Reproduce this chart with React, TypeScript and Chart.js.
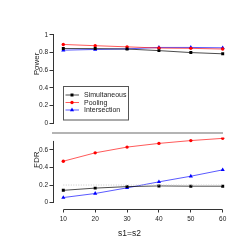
import React, { useEffect, useRef } from "react";
import { Chart, registerables } from "chart.js";

Chart.register(...registerables);

const sValues = [10, 20, 30, 40, 50, 60];
const powerSimultaneous = [0.846, 0.845, 0.84, 0.822, 0.8, 0.786];
const powerPooling = [0.892, 0.878, 0.865, 0.851, 0.848, 0.84];
const powerIntersection = [0.827, 0.835, 0.842, 0.858, 0.858, 0.854];
const fdrSimultaneous = [0.14, 0.165, 0.182, 0.19, 0.187, 0.187];
const fdrPooling = [0.47, 0.565, 0.63, 0.672, 0.704, 0.729];
const fdrIntersection = [0.058, 0.104, 0.168, 0.236, 0.3, 0.372];
const fdrLevel = 0.2;
const powerTicks = [0, 0.2, 0.4, 0.6, 0.8, 1];
const fdrTicks = [0, 0.2, 0.4, 0.6];
const xTicks = [10, 20, 30, 40, 50, 60];
const seriesNames = ["Simultaneous", "Pooling", "Intersection"];

const FONT = "'Liberation Sans', Arial, Helvetica, sans-serif";
const AXIS = "#333";
const TEXT = "#222";

const styles = [
  { line: "rgba(0,0,0,0.7)", point: "#000", shape: "rect", r: 2.1 },
  { line: "rgba(255,0,0,0.65)", point: "#ff0000", shape: "circle", r: 1.7 },
  { line: "rgba(0,0,255,0.65)", point: "#0000ff", shape: "triangle", r: 2.4 },
];

function pts(vals: number[]) {
  return sValues.map((x, i) => ({ x, y: vals[i] }));
}

function ds(label: string, vals: number[], k: number) {
  const s = styles[k];
  return {
    label,
    data: pts(vals),
    borderColor: s.line,
    backgroundColor: s.point,
    pointBackgroundColor: s.point,
    pointBorderColor: s.point,
    pointBorderWidth: 0,
    pointStyle: s.shape,
    pointRadius: s.r,
    borderWidth: 1,
    tension: 0,
  };
}

function drawMarker(ctx: CanvasRenderingContext2D, shape: string, x: number, y: number, r: number, color: string) {
  ctx.fillStyle = color;
  ctx.beginPath();
  if (shape === "rect") {
    const h = r / Math.SQRT2;
    ctx.rect(x - h, y - h, 2 * h, 2 * h);
  } else if (shape === "circle") {
    ctx.arc(x, y, r, 0, Math.PI * 2);
  } else {
    const a = (Math.PI / 180) * 0;
    ctx.moveTo(x + Math.sin(a) * r, y - Math.cos(a) * r);
    ctx.lineTo(x + Math.sin(a + (2 * Math.PI) / 3) * r, y - Math.cos(a + (2 * Math.PI) / 3) * r);
    ctx.lineTo(x + Math.sin(a + (4 * Math.PI) / 3) * r, y - Math.cos(a + (4 * Math.PI) / 3) * r);
    ctx.closePath();
  }
  ctx.fill();
}

function axisLinePlugin(ticks: number[], yTitle: string, titleY: number, extraTop?: number) {
  return {
    id: "axisLine_" + yTitle,
    afterDraw(chart: any) {
      const ctx = chart.ctx as CanvasRenderingContext2D;
      const y = chart.scales.y;
      const left = chart.chartArea.left;
      const topVal = extraTop !== undefined ? extraTop : ticks[ticks.length - 1];
      ctx.save();
      ctx.strokeStyle = AXIS;
      ctx.lineWidth = 1;
      ctx.beginPath();
      ctx.moveTo(left, y.getPixelForValue(ticks[0]));
      ctx.lineTo(left, y.getPixelForValue(topVal));
      ctx.stroke();
      ctx.fillStyle = TEXT;
      ctx.font = `8px ${FONT}`;
      ctx.textAlign = "center";
      ctx.textBaseline = "middle";
      ctx.translate(36.7, titleY);
      ctx.rotate(-Math.PI / 2);
      ctx.fillText(yTitle, 0, 0);
      ctx.restore();
    },
  };
}

const legendPlugin = {
  id: "customLegend",
  afterDraw(chart: any) {
    const ctx = chart.ctx as CanvasRenderingContext2D;
    ctx.save();
    ctx.strokeStyle = "#555";
    ctx.lineWidth = 1;
    ctx.strokeRect(63.5, 86.5, 65, 33.5);
    const rows = [95, 102.5, 110];
    chart.data.datasets.forEach((d: any, i: number) => {
      const s = styles[i];
      const yy = rows[i];
      ctx.strokeStyle = s.line;
      ctx.lineWidth = 1;
      ctx.beginPath();
      ctx.moveTo(65.5, yy);
      ctx.lineTo(79, yy);
      ctx.stroke();
      drawMarker(ctx, s.shape, 72, yy, s.r, s.point);
      ctx.fillStyle = TEXT;
      ctx.font = `7px ${FONT}`;
      ctx.textAlign = "left";
      ctx.textBaseline = "middle";
      ctx.fillText(d.label, 84, yy + 0.3);
    });
    ctx.restore();
  },
};

const separatorPlugin = {
  id: "separator",
  beforeDatasetsDraw(chart: any) {
    const ctx = chart.ctx as CanvasRenderingContext2D;
    ctx.save();
    ctx.fillStyle = "#b4b4b4";
    ctx.fillRect(52, 0, 171, 2);
    ctx.restore();
  },
};

function bottomExtras() {
  return {
    id: "bottomExtras",
    afterDraw(chart: any) {
      const ctx = chart.ctx as CanvasRenderingContext2D;
      const x = chart.scales.x;
      const bottom = chart.chartArea.bottom;
      ctx.save();
      ctx.strokeStyle = AXIS;
      ctx.lineWidth = 1;
      ctx.beginPath();
      ctx.moveTo(x.getPixelForValue(xTicks[0]), bottom);
      ctx.lineTo(x.getPixelForValue(xTicks[xTicks.length - 1]), bottom);
      ctx.stroke();
      ctx.fillStyle = TEXT;
      ctx.font = `8.5px ${FONT}`;
      ctx.textAlign = "center";
      ctx.textBaseline = "middle";
      ctx.fillText("s1=s2", 129.5, 101.3);
      ctx.restore();
    },
  };
}

const xMin = 6.926;
const xMax = 61.976;

function yScale(min: number, max: number, ticks: number[]) {
  return {
    type: "linear",
    min,
    max,
    afterFit: (s: any) => {
      s.width = 53.5;
    },
    afterBuildTicks: (s: any) => {
      s.ticks = ticks.map((v) => ({ value: v }));
    },
    ticks: {
      callback: (v: any) => String(v),
      font: { family: FONT, size: 6.5 },
      color: TEXT,
      padding: 1.5,
    },
    grid: { drawOnChartArea: false, drawTicks: true, tickLength: 4, color: AXIS },
    border: { display: false },
  };
}

export default function App() {
  const topRef = useRef<HTMLCanvasElement | null>(null);
  const botRef = useRef<HTMLCanvasElement | null>(null);

  useEffect(() => {
    const top = new Chart(topRef.current as HTMLCanvasElement, {
      type: "line",
      data: {
        datasets: [
          ds(seriesNames[0], powerSimultaneous, 0),
          ds(seriesNames[1], powerPooling, 1),
          ds(seriesNames[2], powerIntersection, 2),
        ],
      } as any,
      options: {
        animation: false,
        responsive: false,
        events: [],
        layout: { padding: { top: 30, right: 16, bottom: 0.5, left: 0 } },
        plugins: { legend: { display: false }, tooltip: { enabled: false } },
        scales: {
          x: { type: "linear", min: xMin, max: xMax, display: false },
          y: yScale(-0.04, 1.056, powerTicks),
        },
      } as any,
      plugins: [axisLinePlugin(powerTicks, "Power", 64), legendPlugin],
    });

    const bot = new Chart(botRef.current as HTMLCanvasElement, {
      type: "line",
      data: {
        datasets: [
          {
            label: "FDR level",
            data: pts(sValues.map(() => fdrLevel)),
            borderColor: "#c8c8c8",
            borderDash: [1, 1.5],
            borderWidth: 1,
            pointRadius: 0,
          },
          ds(seriesNames[0], fdrSimultaneous, 0),
          ds(seriesNames[1], fdrPooling, 1),
          ds(seriesNames[2], fdrIntersection, 2),
        ],
      } as any,
      options: {
        animation: false,
        responsive: false,
        events: [],
        layout: { padding: { top: 1.5, right: 16, bottom: 0, left: 0 } },
        plugins: { legend: { display: false }, tooltip: { enabled: false } },
        scales: {
          x: {
            type: "linear",
            min: xMin,
            max: xMax,
            afterFit: (s: any) => {
              s.height = 35.5;
            },
            afterBuildTicks: (s: any) => {
              s.ticks = xTicks.map((v) => ({ value: v }));
            },
            ticks: {
              font: { family: FONT, size: 6.5 },
              color: TEXT,
              padding: 3,
              maxRotation: 0,
            },
            grid: { drawOnChartArea: false, drawTicks: true, tickLength: 3, color: AXIS },
            border: { display: false },
          },
          y: yScale(-0.0774, 0.74, fdrTicks),
        },
      } as any,
      plugins: [separatorPlugin, axisLinePlugin(fdrTicks, "FDR", 27.7, 0.7), bottomExtras()],
    });

    return () => {
      top.destroy();
      bot.destroy();
    };
  }, []);

  return (
    <div style={{ position: "absolute", left: 0, top: 0, width: 245, height: 245, background: "#fff" }}>
      <canvas ref={topRef} width={245} height={132} style={{ position: "absolute", left: 0, top: 0 }} />
      <canvas ref={botRef} width={245} height={113} style={{ position: "absolute", left: 0, top: 132 }} />
    </div>
  );
}
